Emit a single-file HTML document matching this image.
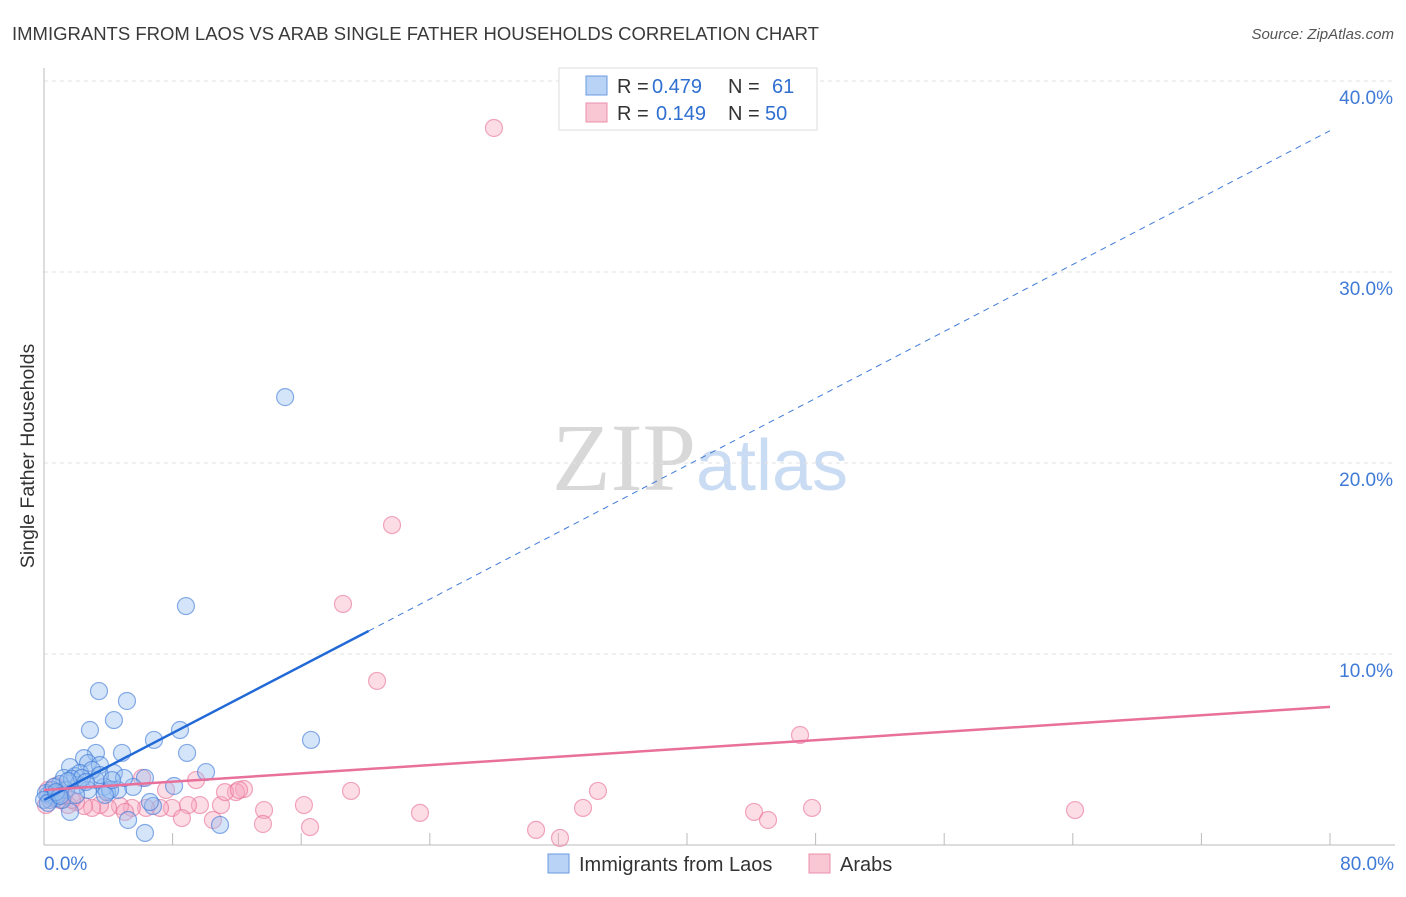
<!DOCTYPE html>
<html><head><meta charset="utf-8"><style>
body{margin:0;background:#fff;font-family:"Liberation Sans",sans-serif}
svg text{font-family:"Liberation Sans",sans-serif}
</style></head><body>
<svg id="chart" width="1406" height="892" viewBox="0 0 1406 892">
<text x="12" y="40" font-size="18.5" fill="#3a3a3a">IMMIGRANTS FROM LAOS VS ARAB SINGLE FATHER HOUSEHOLDS CORRELATION CHART</text>
<text x="1394" y="39" font-size="15" fill="#555" text-anchor="end" font-style="italic">Source: ZipAtlas.com</text>
<text x="700" y="490" font-size="96" text-anchor="middle"><tspan fill="#d8d8d8" font-family="Liberation Serif,serif">ZIP</tspan><tspan fill="#c9dcf3" font-size="72">atlas</tspan></text>
<g id="grid"></g>
<g id="axes"></g>
<g id="marks"></g>
<text transform="translate(34,456) rotate(-90)" font-size="19.5" fill="#333" text-anchor="middle">Single Father Households</text>
<g>
<rect x="559" y="68" width="258" height="62" fill="#fff" stroke="#ddd"/>
<rect x="586" y="76" width="21" height="19" fill="#b8d3f5" stroke="#6a9be0"/>
<rect x="586" y="103" width="21" height="19" fill="#f9c6d4" stroke="#ec8fab"/>
<text x="617" y="93" font-size="20" fill="#333">R =</text>
<text x="652" y="93" font-size="20" fill="#2f6fd0">0.479</text>
<text x="728" y="93" font-size="20" fill="#333">N =</text>
<text x="772" y="93" font-size="20" fill="#2f6fd0">61</text>
<text x="617" y="120" font-size="20" fill="#333">R =</text>
<text x="656" y="120" font-size="20" fill="#2f6fd0">0.149</text>
<text x="728" y="120" font-size="20" fill="#333">N =</text>
<text x="765" y="120" font-size="20" fill="#2f6fd0">50</text>
</g>
<g>
<rect x="548" y="854" width="21" height="19" fill="#b8d3f5" stroke="#6a9be0"/>
<text x="579" y="871" font-size="20" fill="#333">Immigrants from Laos</text>
<rect x="809" y="854" width="21" height="19" fill="#f9c6d4" stroke="#ec8fab"/>
<text x="840" y="871" font-size="20" fill="#333">Arabs</text>
</g>
</svg>
<script>
const blueX=[15.0,8.83,3.42,5.16,4.35,2.86,6.84,8.46,8.90,16.61,4.85,3.23,2.49,1.62,2.74,4.35,1.24,1.93,2.24,3.48,10.08,6.28,8.09,5.54,4.60,3.73,3.92,1.00,0.50,0.25,0.75,0.37,1.62,5.23,6.28,10.95,6.78,3.23,2.99,2.12,1.37,0.87,0.12,0.62,4.11,2.74,3.79,6.59,1.12,1.74,2.36,1.49,4.98,3.48,4.23,0,0.25,0.75,1.00,1.99,2.61];
const blueY=[23.45,12.51,8.06,7.54,6.54,6.02,5.50,6.02,4.82,5.50,4.82,4.82,4.55,4.08,4.29,3.77,3.51,3.61,3.77,4.19,3.82,3.51,3.09,3.04,2.88,3.04,2.77,3.19,2.88,2.62,2.46,2.36,1.73,1.31,0.63,1.05,2.04,3.40,3.93,3.14,2.88,2.67,2.72,3.04,2.88,2.88,2.62,2.25,2.36,3.46,3.51,3.35,3.51,3.66,3.40,2.36,2.20,2.77,2.57,2.62,3.30];
const pinkX=[27.99,21.65,18.60,20.72,47.03,64.14,47.78,44.17,45.04,34.46,33.53,32.10,30.61,23.39,19.10,16.17,16.55,13.69,13.62,12.44,11.94,11.01,10.51,11.26,9.70,8.96,7.96,8.58,7.59,7.22,6.35,6.10,5.47,4.73,3.98,3.48,2.99,2.49,1.99,1.49,1.00,0.50,0.25,0.75,0.12,1.24,1.74,9.46,12.13,5.04];
const pinkY=[37.54,16.75,12.62,8.59,5.76,1.83,1.94,1.73,1.31,2.83,1.94,0.37,0.79,1.68,2.83,2.09,0.94,1.83,1.10,2.93,2.77,2.09,1.31,2.77,2.09,2.09,1.94,1.41,2.88,1.94,1.94,3.51,1.94,2.04,1.94,2.09,1.94,2.04,2.25,2.09,2.36,2.46,2.88,3.09,2.09,2.62,2.36,3.40,2.88,1.73];
const blueTrend=[2.36,37.4];
const pinkTrend=[2.88,7.23];
const yTicks=[10,20,30,40];
const yTickLabels=["10.0%","20.0%","30.0%","40.0%"];
const xTickLabels=["0.0%","80.0%"];
const xTicks=[8,16,24,32,40,48,56,64,72,80];
const blueSolidEnd=20.2;

const NS="http://www.w3.org/2000/svg";
const sx=v=>44+v*16.075, sy=v=>845-v*19.1;
function mk(tag,attrs,parent){const e=document.createElementNS(NS,tag);for(const k in attrs)e.setAttribute(k,attrs[k]);document.getElementById(parent).appendChild(e);return e;}
yTicks.forEach((t,i)=>{
  const l=mk('line',{x1:44,x2:1395,y1:sy(t),y2:sy(t),stroke:'#e2e2e2','stroke-dasharray':'4,4'},'grid');
  
  
  const tx=mk('text',{x:1393,y:sy(t)+23,'font-size':19,fill:'#3f7ad6','text-anchor':'end'},'axes');
  tx.textContent=yTickLabels[i];
  
  
});
let a=mk('line',{x1:44,x2:44,y1:68,y2:845,stroke:'#bbb'},'axes');


a=mk('line',{x1:44,x2:1395,y1:845,y2:845,stroke:'#bbb'},'axes');


xTicks.forEach(v=>{const t=mk('line',{x1:sx(v),x2:sx(v),y1:833,y2:845,stroke:'#bbb'},'axes');
  
  });
[[0,'start',44],[80,'end',1394]].forEach((d,i)=>{const t=mk('text',{x:d[2],y:870,'font-size':19,fill:'#3f7ad6','text-anchor':d[1]},'axes');t.textContent=xTickLabels[i];
  
  });
function pts(X,Y,fill,stroke,name){X.forEach((x,i)=>{const c=mk('circle',{cx:sx(x),cy:sy(Y[i]),r:8.5,fill:fill,stroke:stroke,'stroke-width':1.2},'marks');
  
  });}
pts(pinkX,pinkY,'rgba(247,170,192,0.4)','rgba(232,110,150,0.6)','arabs-point');
pts(blueX,blueY,'rgba(150,190,240,0.4)','rgba(60,120,215,0.6)','laos-point');
const bAt=x=>blueTrend[0]+(blueTrend[1]-blueTrend[0])*x/80;
let l=mk('line',{x1:sx(blueSolidEnd),y1:sy(bAt(blueSolidEnd)),x2:sx(80),y2:sy(bAt(80)),stroke:'#3f7ad6','stroke-width':1,'stroke-dasharray':'6,5'},'marks');


l=mk('line',{x1:sx(0),y1:sy(bAt(0)),x2:sx(blueSolidEnd),y2:sy(bAt(blueSolidEnd)),stroke:'#2169d6','stroke-width':2.5},'marks');


l=mk('line',{x1:sx(0),y1:sy(pinkTrend[0]),x2:sx(80),y2:sy(pinkTrend[1]),stroke:'#e8709a','stroke-width':2.5},'marks');


</script>
</body></html>
